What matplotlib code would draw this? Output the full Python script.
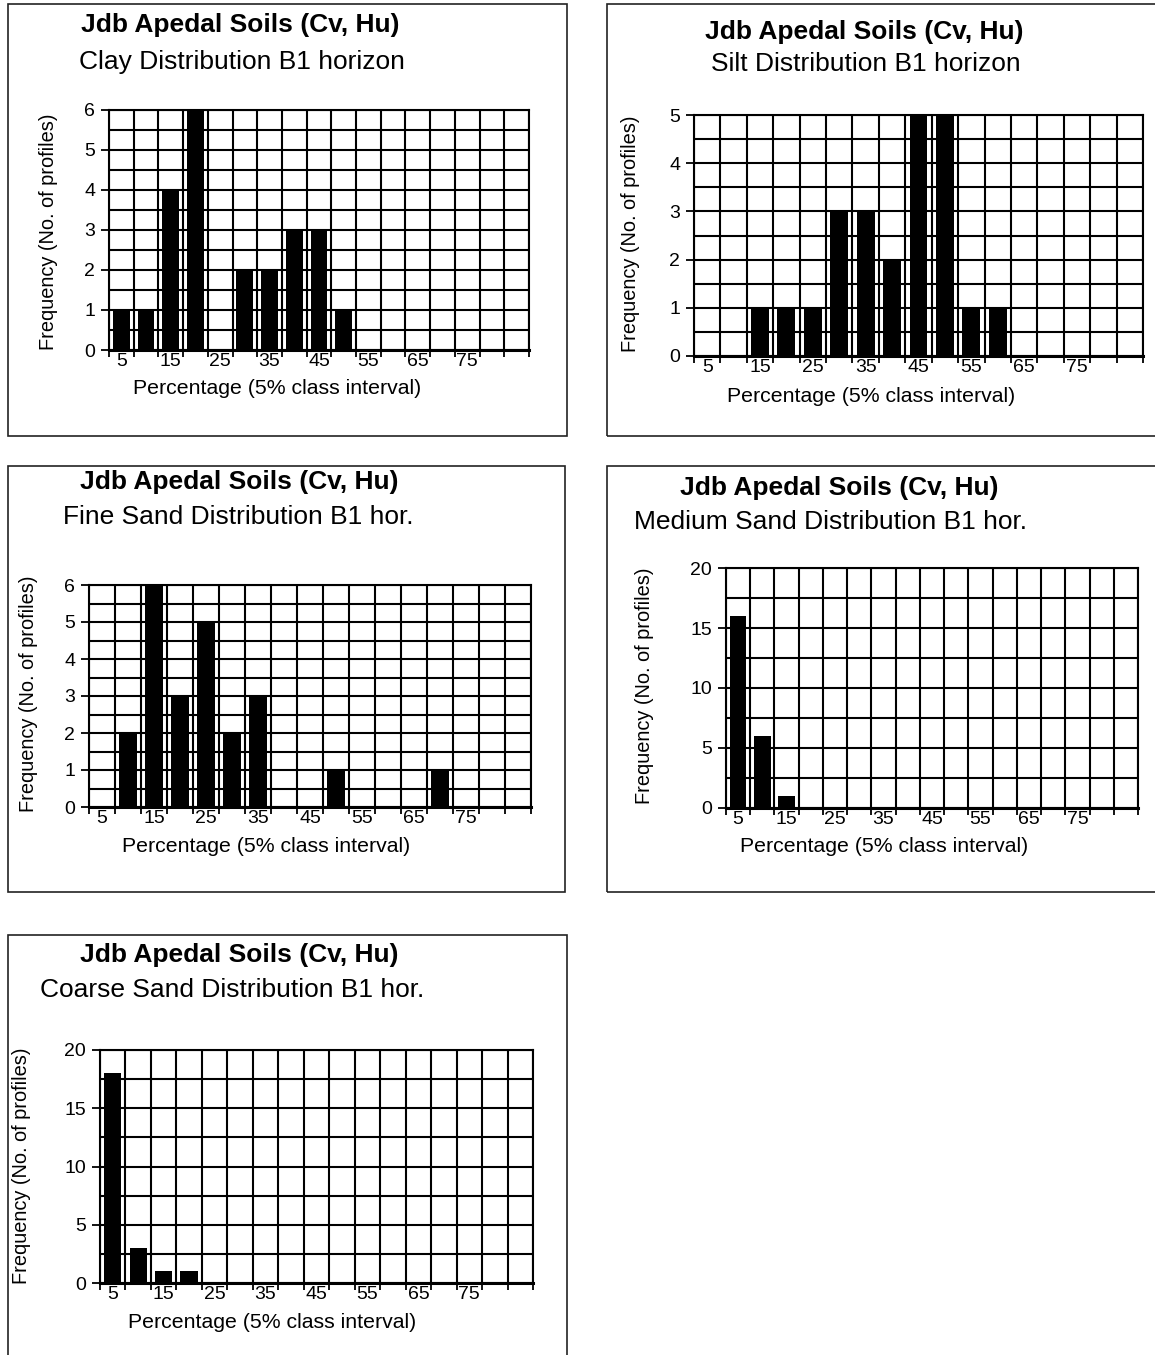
import matplotlib
matplotlib.use("Agg")
import matplotlib.pyplot as plt
from matplotlib.patches import Rectangle
from matplotlib.ticker import MultipleLocator, FixedLocator, NullFormatter

plt.rcParams['font.family'] = ['Liberation Sans', 'DejaVu Sans']

# 5% class intervals (class labels 5 .. 85)
classes = [5, 10, 15, 20, 25, 30, 35, 40, 45, 50, 55, 60, 65, 70, 75, 80, 85]
tick_labels = ['5', '15', '25', '35', '45', '55', '65', '75']

title = "Jdb Apedal Soils (Cv, Hu)"
sub_clay = "Clay Distribution B1 horizon"
sub_silt = "Silt Distribution B1 horizon"
sub_fine = "Fine Sand Distribution B1 hor."
sub_medium = "Medium Sand Distribution B1 hor."
sub_coarse = "Coarse Sand Distribution B1 hor."

clay = [1, 1, 4, 6, 0, 2, 2, 3, 3, 1, 0, 0, 0, 0, 0, 0, 0]
silt = [0, 0, 1, 1, 1, 3, 3, 2, 5, 5, 1, 1, 0, 0, 0, 0, 0]
fine_sand = [0, 2, 6, 3, 5, 2, 3, 0, 0, 1, 0, 0, 0, 1, 0, 0, 0]
medium_sand = [16, 6, 1, 0, 0, 0, 0, 0, 0, 0, 0, 0, 0, 0, 0, 0, 0]
coarse_sand = [18, 3, 1, 1, 0, 0, 0, 0, 0, 0, 0, 0, 0, 0, 0, 0, 0]

W, H = 1155, 1355
fig = plt.figure(figsize=(W / 100, H / 100), dpi=100)
fig.patch.set_facecolor('white')


def fx(x):
    return x / W


def fy(y):
    return 1 - y / H


def panel(box, plot, title_xy, sub_xy, xlab_xy, ylab_xy, values, subtitle,
          ymax, ymajor, yminor):
    bl, bt, br, bb = box
    fig.add_artist(Rectangle((fx(bl), fy(bb)), fx(br - bl), (bb - bt) / H,
                             transform=fig.transFigure, fill=False,
                             edgecolor='#222222', linewidth=1.2))
    pl, pt, pr, pb = plot
    ax = fig.add_axes([fx(pl), fy(pb), fx(pr - pl), (pb - pt) / H])
    n = len(values)
    xs = list(range(n))
    ax.bar(xs, values, width=0.68, color='black', zorder=3)
    ax.set_xlim(-0.5, n - 0.5)
    ax.set_ylim(0, ymax)
    # category boundaries: grid lines and outward tick marks
    bounds = [i - 0.5 for i in range(n + 1)]
    ax.xaxis.set_minor_locator(FixedLocator(bounds))
    ax.xaxis.set_major_locator(FixedLocator([classes.index(int(t)) for t in tick_labels]))
    ax.set_xticklabels(tick_labels)
    ax.tick_params(axis='x', which='major', length=0, labelsize=14, pad=2)
    ax.tick_params(axis='x', which='minor', length=5, width=1.3, direction='out')
    ax.yaxis.set_major_locator(MultipleLocator(ymajor))
    ax.yaxis.set_minor_locator(MultipleLocator(yminor))
    ax.yaxis.set_minor_formatter(NullFormatter())
    ax.tick_params(axis='y', which='major', length=6, width=1.3, labelsize=14, pad=4)
    ax.tick_params(axis='y', which='minor', length=0)
    ax.grid(which='minor', axis='both', color='black', linewidth=1.5, zorder=1)
    ax.grid(which='major', axis='y', color='black', linewidth=1.5, zorder=1)
    ax.set_axisbelow(True)
    for s in ax.spines.values():
        s.set_linewidth(1.5)
    ax.spines['bottom'].set_linewidth(2.2)

    fig.text(fx(title_xy[0]), fy(title_xy[1]), title, ha='center', va='center',
             fontsize=19, fontweight='bold')
    fig.text(fx(sub_xy[0]), fy(sub_xy[1]), subtitle, ha='center', va='center',
             fontsize=19)
    fig.text(fx(xlab_xy[0]), fy(xlab_xy[1]), "Percentage (5% class interval)",
             ha='center', va='center', fontsize=15.3)
    fig.text(fx(ylab_xy[0]), fy(ylab_xy[1]), "Frequency (No. of profiles)",
             ha='center', va='center', rotation=90, fontsize=14.4)


panel((8, 4, 567, 436), (109, 110, 529, 350), (240, 25), (242, 62), (277, 388),
      (49, 232), clay, sub_clay, 6, 1, 0.5)
panel((607, 4, 1160, 436), (694, 115, 1143, 356), (864, 32), (866, 64), (871, 397),
      (631, 234), silt, sub_silt, 5, 1, 0.5)
panel((8, 466, 565, 892), (89, 585, 531, 807), (239, 482), (238, 517), (266, 847),
      (29, 694), fine_sand, sub_fine, 6, 1, 0.5)
panel((607, 466, 1160, 892), (726, 568, 1138, 808), (839, 488), (831, 522), (884, 847),
      (645, 686), medium_sand, sub_medium, 20, 5, 2.5)
panel((8, 935, 567, 1370), (100, 1050, 533, 1283), (239, 955), (232, 990), (272, 1323),
      (22, 1166), coarse_sand, sub_coarse, 20, 5, 2.5)

fig.savefig("out.png", dpi=100, facecolor='white')
